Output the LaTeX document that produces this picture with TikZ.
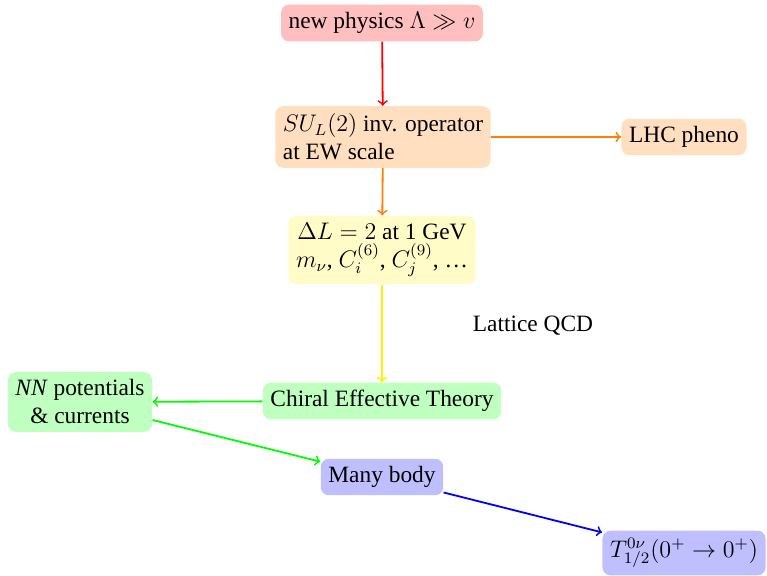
\documentclass[tikz,border=0pt]{standalone}
\usepackage{fontspec}
\setmainfont{Liberation Serif}
\begin{document}
\begin{tikzpicture}[x=0.5pt,y=-0.5pt,
  box/.style={rounded corners=4pt,inner sep=3.8pt,align=center,font=\rmfamily\fontsize{11.7}{14}\selectfont},
  lbl/.style={font=\rmfamily\fontsize{11.7}{14}\selectfont},
  arr/.style={->,line width=0.9pt}]
\useasboundingbox (0,0) rectangle (767,576);
\node[box,fill=red!25] (np) at (382,23) {new physics $\Lambda\gg v$};
\node[box,fill=orange!25,align=left] (su) at (383,137) {$SU_L(2)$ inv. operator\\at EW scale};
\node[box,fill=orange!25] (lhc) at (684,137) {LHC pheno};
\node[box,fill=yellow!22] (dl) at (382,250) {$\Delta L=2$ at 1 GeV\\$m_\nu$, $C_i^{(6)}$, $C_j^{(9)}$, \dots};
\node[lbl] (lq) at (533,326) {Lattice QCD};
\node[box,fill=green!25] (ch) at (382,401) {Chiral Effective Theory};
\node[box,fill=green!25] (nn) at (80,402) {\textit{NN} potentials\\\& currents};
\node[box,fill=blue!25] (mb) at (382,477) {Many body};
\node[box,fill=blue!25] (t) at (684,553) {$T^{0\nu}_{1/2}(0^+\to0^+)$};
\draw[arr,red] (np) -- (su);
\draw[arr,orange] (su) -- (lhc);
\draw[arr,orange] (su) -- (dl);
\draw[arr,yellow] (dl) -- (ch);
\draw[arr,green] (ch) -- (nn);
\draw[arr,green] (nn) -- (mb);
\draw[arr,blue] (mb) -- (t);
\end{tikzpicture}
\end{document}
